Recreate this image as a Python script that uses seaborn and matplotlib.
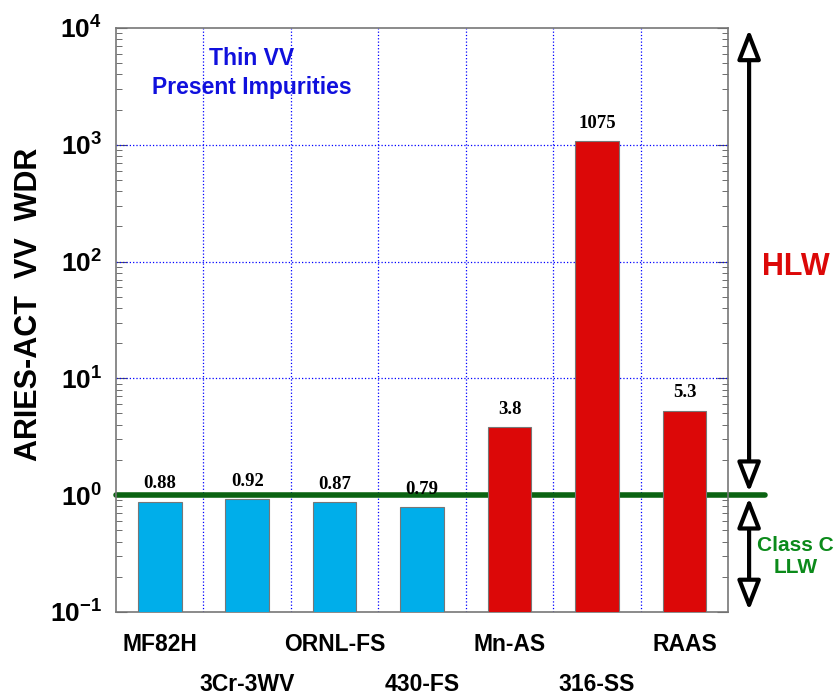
import matplotlib
matplotlib.use("Agg")
import matplotlib.pyplot as plt
import seaborn as sns
import pandas as pd
from matplotlib.ticker import FixedLocator, LogLocator, NullFormatter

# chart data
alloys = ["MF82H", "3Cr-3WV", "ORNL-FS", "430-FS", "Mn-AS", "316-SS", "RAAS"]
wdr = [0.88, 0.92, 0.87, 0.79, 3.8, 1075, 5.3]
value_labels = ["0.88", "0.92", "0.87", "0.79", "3.8", "1075", "5.3"]
waste_class = ["LLW", "LLW", "LLW", "LLW", "HLW", "HLW", "HLW"]
limit = 1.0

df = pd.DataFrame({"alloy": alloys, "wdr": wdr, "cls": waste_class})

sns.set_style("white")
plt.rcParams['font.family'] = ['Liberation Sans', 'DejaVu Sans']
plt.rcParams['text.color'] = 'black'
plt.rcParams['axes.labelcolor'] = 'black'
plt.rcParams['ytick.color'] = '#555555'
plt.rcParams['ytick.labelcolor'] = 'black'
plt.rcParams['mathtext.fontset'] = 'custom'
plt.rcParams['mathtext.rm'] = 'Liberation Sans:bold'
plt.rcParams['mathtext.default'] = 'rm'

fig = plt.figure(figsize=(8.4, 6.97), dpi=100)
ax = fig.add_axes([0.138, 0.122, 0.729, 0.838])
ax.set_yscale("log")

sns.barplot(data=df, x="alloy", y="wdr", hue="cls", dodge=False, width=0.5,
            palette={"LLW": "#00AEEA", "HLW": "#DC0808"}, saturation=1,
            edgecolor="#777777", linewidth=0.8, legend=False, ax=ax, zorder=3)

ax.set_ylim(0.1, 1e4)
ax.set_xlim(-0.5, len(alloys) - 0.5)

# grid at category boundaries and decades
for b in range(1, len(alloys)):
    ax.axvline(b - 0.5, color="blue", ls=":", lw=0.9, zorder=1)
for e in range(0, 4):
    ax.axhline(10 ** e, color="blue", ls=":", lw=0.9, zorder=1)

ax.axhline(limit, xmin=0, xmax=1.06, color="#0B6312", lw=4, clip_on=False, zorder=2)

for i, (v, t) in enumerate(zip(wdr, value_labels)):
    ax.text(i, v * 1.2, t, ha="center", va="bottom", family="Liberation Serif",
            fontweight="bold", fontsize=13.5)

# staggered category labels
ax.set_xticks(range(len(alloys)))
ax.set_xticklabels([])
ax.tick_params(axis="x", length=0)
ax.xaxis.set_minor_locator(FixedLocator([b - 0.5 for b in range(1, len(alloys))]))
ax.tick_params(axis="x", which="minor", direction="in", length=6, color="#555555")
for i, name in enumerate(alloys):
    off = -0.055 if i % 2 == 0 else -0.125
    ax.text(i, off, name, transform=ax.get_xaxis_transform(), ha="center", va="center",
            fontsize=16.5, fontweight="bold")

ax.yaxis.set_major_locator(LogLocator(base=10, numticks=10))
ax.yaxis.set_minor_locator(LogLocator(base=10, subs=range(2, 10), numticks=10))
ax.yaxis.set_minor_formatter(NullFormatter())
ax.tick_params(axis="y", which="both", direction="in", left=True, right=True,
               labelsize=19, pad=10)
ax.tick_params(axis="y", which="major", length=8)
ax.tick_params(axis="y", which="minor", length=4)
fig.canvas.draw()
for lab in ax.get_yticklabels():
    lab.set_fontweight("bold")
    lab.set_va("center_baseline")

for s in ax.spines.values():
    s.set_color("#777777")
    s.set_linewidth(1.2)

ax.set_xlabel("")
ax.set_ylabel("ARIES-ACT  VV  WDR", fontsize=22, fontweight="bold")
ax.yaxis.set_label_coords(-0.118, 0.526)

ax.text(1.05, 4100, "Thin VV\nPresent Impurities", color="#1010DD", ha="center",
        va="center", fontsize=16.5, fontweight="bold", linespacing=1.3)

# waste class arrows on the right
arrow_kw = dict(arrowstyle="<|-|>,head_length=1.8,head_width=0.7", lw=3,
                color="black", fc="white", shrinkA=0, shrinkB=0)
ax.annotate("", xy=(1.034, 1e4 * 0.97), xytext=(1.034, 1.06),
            xycoords=("axes fraction", "data"), arrowprops=arrow_kw)
ax.annotate("", xy=(1.034, 0.95), xytext=(1.034, 0.103),
            xycoords=("axes fraction", "data"), arrowprops=arrow_kw)
ax.text(1.11, 90, "HLW", transform=ax.get_yaxis_transform(), color="#DC0808",
        fontsize=22, fontweight="bold", ha="center", va="center")
ax.text(1.11, 0.3, "Class C\nLLW", transform=ax.get_yaxis_transform(), color="#0B8A1A",
        fontsize=15, fontweight="bold", ha="center", va="center", linespacing=1.2)

fig.savefig("out.png", dpi=100)
